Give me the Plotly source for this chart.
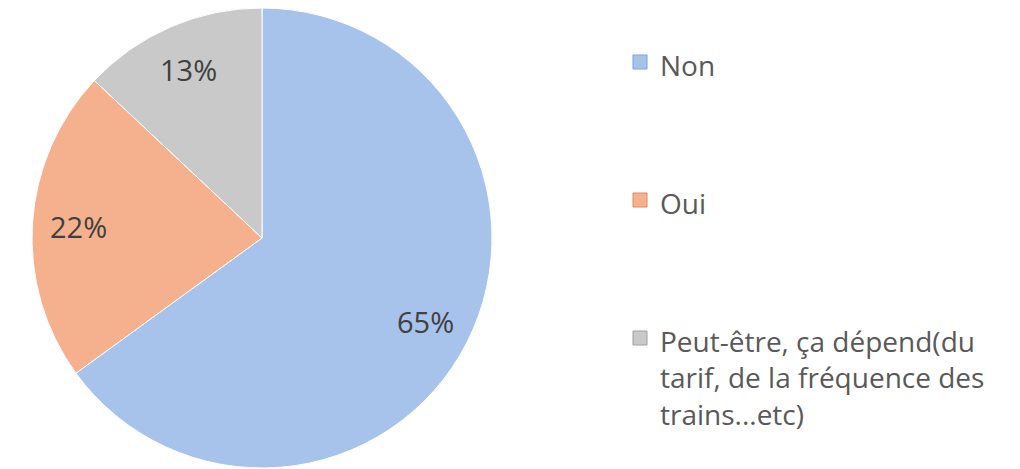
import math
import plotly.graph_objects as go

categories = ["Non", "Oui", "Peut-être, ça dépend(du<br>tarif, de la fréquence des<br>trains...etc)"]
values = [65, 22, 13]
colors = ["#A7C3EB", "#F5B08E", "#C9C9C9"]
edge_colors = ["#7F9FD3", "#E08A5E", "#A0A0A0"]

# page body has an 8px margin, so the figure is placed at (8, 8)
W, H = 1012, 461
cx, cy, r = 254, 230, 230          # pie centre / radius in figure pixels
label_frac = 0.80                  # radial position of percentage labels
legend_sym_x = 632                 # legend square centre (figure px)
legend_txt_x = 650                 # legend text left edge (figure px)
legend_y = [54, 192, 330]          # legend square centres (figure px)
line_h = 28 * 1.3

fig = go.Figure(go.Pie(
    labels=categories,
    values=values,
    sort=False,
    direction="clockwise",
    rotation=0,
    marker=dict(colors=colors, line=dict(color="#FFFFFF", width=1)),
    textinfo="none",
    domain=dict(x=[(cx - r) / W, (cx + r) / W], y=[1 - (cy + r) / H, 1 - (cy - r) / H]),
    hoverinfo="label+percent",
    showlegend=False,
))

total = sum(values)
annotations = []
shapes = []
cum = 0.0
for lab, v, col, ec, ly in zip(categories, values, colors, edge_colors, legend_y):
    mid = (cum + v / 2) / total * 2 * math.pi
    cum += v
    px = cx + label_frac * r * math.sin(mid)
    py = cy - label_frac * r * math.cos(mid)
    annotations.append(dict(
        x=px / W, y=1 - py / H, xref="paper", yref="paper",
        text=f"{round(100 * v / total)}%", showarrow=False,
        font=dict(family="Open Sans", size=29, color="#404040"),
        xanchor="center", yanchor="middle",
    ))
    s = 7
    shapes.append(dict(
        type="rect", xref="paper", yref="paper",
        x0=(legend_sym_x - s) / W, x1=(legend_sym_x + s) / W,
        y0=1 - (ly + s) / H, y1=1 - (ly - s) / H,
        fillcolor=col, line=dict(color=ec, width=1),
    ))
    annotations.append(dict(
        x=legend_txt_x / W, y=1 - (ly - line_h / 2) / H, xref="paper", yref="paper",
        text=lab, showarrow=False, align="left",
        font=dict(family="Open Sans", size=28, color="#595959"),
        xanchor="left", yanchor="top",
    ))

fig.update_layout(
    width=W, height=H,
    margin=dict(l=0, r=0, t=0, b=0),
    paper_bgcolor="white",
    plot_bgcolor="white",
    annotations=annotations,
    shapes=shapes,
)

fig.write_html("out.html")
